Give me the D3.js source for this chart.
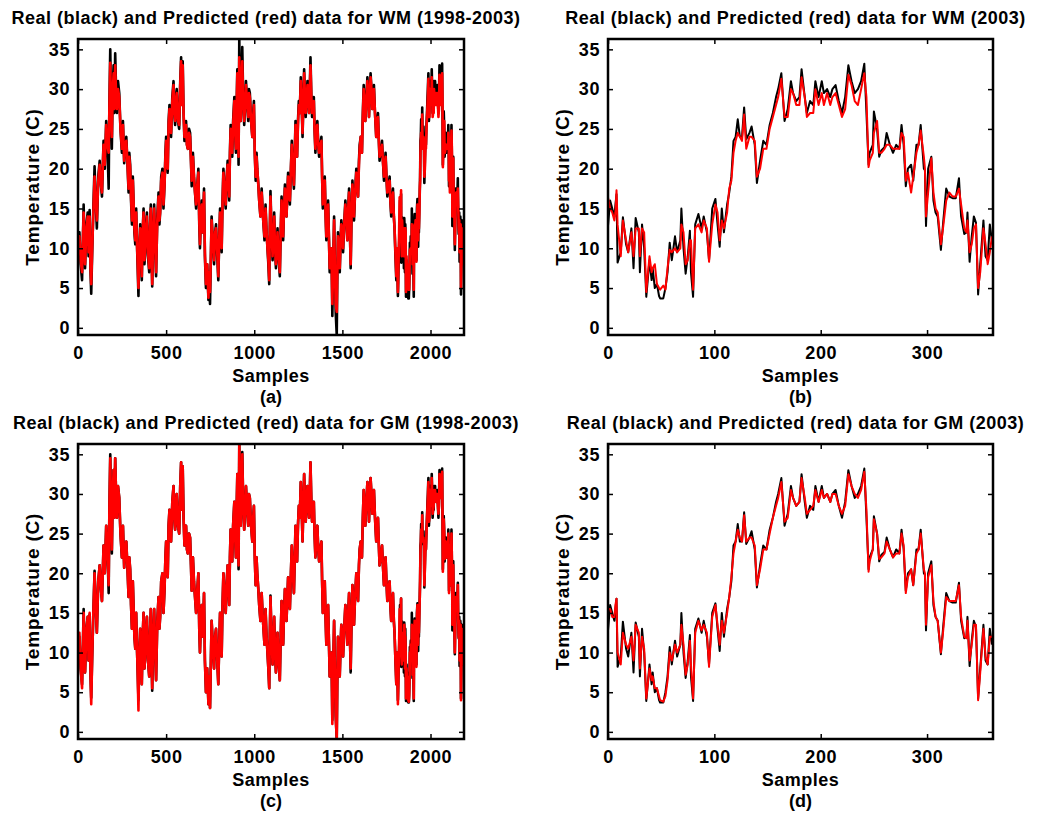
<!DOCTYPE html>
<html>
<head>
<meta charset="utf-8">
<script src="https://cdn.jsdelivr.net/npm/d3@7"></script>
<style>
  body { margin: 0; background: #fff; }
  text { font-family: "Liberation Sans", Arial, Helvetica, sans-serif; font-weight: bold; fill: #000; }
</style>
</head>
<body>
<svg id="chart" width="1044" height="816"></svg>
<script>
// 2003 samples (b, d) — sample index and temperature
var days03 = [0,2,4,6,7,8,9,12,14,17,
  19,22,24,26,29,30,32,34,36,39,
  41,42,44,46,48,49,52,54,56,58,
  60,63,65,68,69,71,73,75,77,78,
  80,82,85,88,90,93,95,98,101,103,
  105,107,109,112,114,116,118,120,122,124,
  126,128,130,133,135,138,140,143,146,149,
  152,155,158,160,163,166,169,172,174,177,
  180,182,185,187,190,193,195,198,201,203,
  206,209,211,214,217,220,223,226,229,232,
  235,238,241,243,245,246,249,250,253,255,
  257,260,262,265,268,271,274,276,278,280,
  282,285,287,290,292,294,297,298,299,301,
  304,306,308,310,313,315,318,321,324,327,
  330,332,335,337,338,340,342,344,346,348,
  350,353,355,357,359,361];

var real03 = [12.8,16,15,14,15.5,16.8,8.2,9.5,13.9,10.5,
  9.5,12.5,7.5,13.8,12,7,13,10,3.9,8.5,
  6,7.5,5,5.5,4,3.7,3.7,5,7,10.7,
  8.5,11.5,9.5,11,15,10,6.8,9,12.2,7,
  3.9,13,14.3,12.5,14,12,8.5,15,16.2,13,
  10.2,15,12,15.5,17,19,23.5,24,26.2,24,
  24,27.7,23.7,24.5,25.3,23,18.2,21,23.5,23,
  25.5,27,29,30,32,26,27.5,31,29.5,28.5,
  29,32.5,29,27,28.5,28,31,29,31,29.5,
  30,29,30,30.5,28.5,27,29,33,31,29.5,
  30,31,33.2,27,20.5,22,23,27.2,25,21.5,
  22.3,22.7,24.5,23,22,23,22.5,25.5,23,17.8,
  20,20.5,18.5,23,23,25.5,20,19.8,12.8,20,
  21.5,16,14.5,14,9.8,13,17.5,16.5,16.3,16.3,
  18.8,14,11.8,12,14.5,8.3,11.5,14,13.2,4.2,
  8,13.5,9,8.5,13,11];

var wmPred03 = [16.4,15,14.5,13.5,14.5,17.3,13,9,13.5,11,
  9.5,12,9,12.5,12.5,9,12.5,12,4.5,9,
  7,7.5,8,5.5,5,4.8,5.3,4.8,7.5,9.8,
  9.5,10,9.5,10,13,12,8,8.5,11,11,
  4.8,12.5,13,12,13.5,12.5,8.3,13,15.5,14.5,
  11,13.5,12.5,14.5,17.5,18.5,22,23.5,24.5,24,
  23.5,26.8,22.5,24,24,23.5,19,20,22.5,22.5,
  25,26.5,28,29,31.3,26.5,26.5,30,29.5,28,
  28,31.5,29,26.5,27,27,30,28,29.5,28,
  29.5,28,29,29.5,28,26.5,27.5,31.8,30.5,28.5,
  28,30,32,29,20.2,21,22,24.5,26,22,
  22,22.5,23,23,22.5,22.5,22.5,24.5,24,18.5,
  19.5,17,19,22,23,24.8,21.5,20,14,17,
  21.3,17,15,14.5,10.5,12.5,16,17,16.5,16.5,
  17.5,15.5,12.5,12,13.5,9.5,10.5,12.5,13,5,
  7,12.5,10.5,8,9.5,11.5];

var gmPred03 = [15.5,15.5,14.5,14.5,16,16.8,10,8.5,12.5,11,
  10.5,12,9,13.5,12.5,8,12,10.5,4.2,8,
  6.5,7,5.5,5.5,4.5,4,3.8,4.5,6.5,10,
  9,11,10,11,13.5,11,7.2,8.5,11.5,8.5,
  4.2,12.5,14,12.8,13.5,12.5,8.2,14.5,16,13.5,
  11,14,12.5,15,17,19.5,22.5,24,25.5,24.5,
  24,27.3,24,24.5,24.5,23.5,18.5,20.5,23,23,
  25,27,28.5,29.5,31.5,26.5,27,30.5,29.5,28.5,
  29,32,29.5,27.5,28,28.5,30.5,29,30.5,29.5,
  30,29,30,30,28.5,27.5,28.5,32.5,31,30,
  29.5,30.5,32.8,28,20.2,21.5,23,26.8,25,21.8,
  22,22.5,24,23,22,22.5,22.5,25,23.5,17.5,
  19.5,20.5,18.5,22.5,23,25,20.5,20,13.5,19.5,
  21,16.5,14.5,14,10,12.5,17,16.5,16.5,16.5,
  18.5,14.5,12,11.8,14,9,11,13.5,13.5,4,
  7.5,13,9.5,8.5,12,12];

// 1998-2002 samples (a, c); 2003 is appended from the arrays above
var daysLong = [0,8,15,23,32,40,48,55,60,66,
  71,75,80,87,94,100,107,115,123,130,
  136,145,152,160,167,174,178,183,188,192,
  197,202,206,211,216,221,227,234,241,249,
  255,262,268,274,280,287,291,296,301,306,
  311,315,320,325,330,334,338,343,348,353,
  358,362,367,372,377,381,386,391,397,404,
  408,413,417,421,427,432,438,443,450,457,
  462,466,472,479,485,491,496,500,505,509,
  514,519,523,528,535,542,546,551,556,560,
  567,574,580,585,590,594,599,604,608,613,
  618,623,630,636,641,645,652,658,664,670,
  677,683,688,692,697,702,708,715,720,726,
  733,740,745,749,754,758,765,772,778,783,
  790,796,801,806,811,815,820,825,832,838,
  844,849,854,858,862,866,871,875,880,887,
  891,896,900,904,908,911,915,919,923,928,
  932,938,943,948,953,960,966,970,975,982,
  989,994,998,1003,1008,1013,1017,1023,1028,1035,
  1042,1047,1051,1058,1064,1070,1075,1080,1085,1088,
  1092,1098,1104,1108,1113,1118,1123,1128,1132,1138,
  1145,1150,1155,1160,1164,1169,1174,1179,1183,1188,
  1192,1197,1202,1208,1213,1219,1225,1230,1234,1238,
  1243,1248,1253,1258,1264,1269,1274,1279,1283,1288,
  1292,1297,1302,1306,1311,1315,1319,1324,1328,1333,
  1338,1342,1347,1352,1358,1363,1368,1374,1381,1385,
  1389,1395,1400,1405,1409,1414,1419,1424,1428,1433,
  1438,1441,1443,1448,1453,1458,1462,1468,1471,1475,
  1480,1485,1490,1494,1499,1504,1510,1517,1522,1528,
  1533,1538,1543,1547,1552,1557,1562,1566,1572,1579,
  1584,1589,1594,1598,1604,1611,1616,1621,1626,1630,
  1636,1642,1647,1651,1656,1660,1665,1670,1675,1679,
  1685,1692,1697,1702,1706,1711,1718,1725,1730,1736,
  1740,1745,1750,1755,1762,1768,1772,1777,1782,1787,
  1792,1796,1801,1806,1810,1815,1820];

var realLong = [10.5,12,8,6,15.5,7.5,13,14.5,9,14.8,
  7,4.3,9,15,20.3,16,12.5,19,21,18,
  16.5,23.5,20,26,23,17.5,28,35,27,22.5,
  30,33,27,34.5,30,27,31,29.5,25,22,
  26,20.7,23,24,21,17,22,20.5,16,13,
  19,16,12,10.5,15,11,8,4,10,13,
  9,6,12,15,8,9.5,13,14.5,9,7,
  12,15.5,10,5.2,12,15.5,10,6.5,14,17,
  13,14.5,19,20,15,18,22,24,21,19.5,
  26,28,25,24,29,31,27,25.5,29,30,
  26,25,31,34,28,33.5,27,23.5,25.5,26,
  23,22.5,25,24.5,21,17.8,22,19,17,15,
  18,20,13,10,14,16,12,17.5,9,5,
  8,3.5,7,3,9,14,11,8,12,13,
  9,6,11,15,12,9.5,16,20,17,15,
  19,21,18,16,22,25.5,23,21.5,26,29,
  25,22,28,32.5,27,20.5,36.3,30,26,31,
  35.3,28,25.5,28,31,28,26,30,29.5,26,
  24,27,28.5,22,18.5,22,20,18,16,14,
  17.5,15,13.5,11,15.5,12,10,8,5.5,12,
  17.2,12,8.5,11,14.5,10,7.5,10,12.5,9,
  6.5,12,16.5,13,11,15,18,15,14,17,
  19.5,17,15.5,20,23.5,20,17.5,22,26,24,
  21.5,26,28.5,27,31.5,28,24,29,32.5,29,
  26.5,29,31,29,27,30,34,29,26.5,28,
  29,25,22,25,26,23,21.5,23,24,19,
  15,17,19,14,11,14,16,11,7,9,
  10,5,1.5,8,14,7,2,-0.9,6,12,
  10,7,11,13.5,12,9.5,13,16,14,11,
  15,17.5,12,7.5,14,18.5,16,13.5,17,20,
  18,16.5,21,23,24,22,27,30.5,28,26,
  29,31.5,29,26.5,30,32,30,27.5,29,30.5,
  27,24,26,27,24,21,22,23.5,21,18.5,
  20,22,19,16.5,18,19,16,14,16,17.5,
  14,12.5,9,6,10,4,9];

var wmPredLong = [11,11.5,8.5,7,14.5,8,12.5,14,9.5,14,
  7.5,5.5,9.5,14.5,19,16,13.5,18.5,20.5,18,
  17,23,20.5,25.5,23,22,27.5,33.3,27,24,
  29.5,32,27.5,33,29.5,27.5,30,29,25,22.5,
  25.5,21,23,23.5,21,17.5,21.5,20,16.5,13.5,
  18.5,16,12.5,11,14.5,11,8.5,5,10,12.5,
  9.5,6.5,12,14.5,8.5,10,12.5,14,9.5,7.5,
  12,15,10,5.5,12,15,10.5,7,13.5,16.5,
  13.5,14.5,18.5,19.5,15.5,18,21.5,23.5,21,20,
  25.5,27.5,25,24.5,28.5,30.5,27,26,28.5,29.5,
  26,25.5,30.5,33.5,28,33,27,24,25.5,25.5,
  23,22.5,24.5,24,21,18.5,21.5,19,17,15.5,
  18,19.5,13.5,10.5,14,15.5,12,17,9.5,5.5,
  8,3.8,7,4.5,9,13.5,11,8.5,12,12.5,
  9.5,6.5,11,14.5,12,10,15.5,19.5,17,15.5,
  19,20.5,18,16.5,21.5,25,23,22,25.5,28.5,
  25,22.5,27.5,32,27,21.5,34,29.5,26,30.5,
  33.5,28,26,28,30.5,28,26.5,29.5,29,26,
  24,26.5,28,22,19,21.5,20,18,16,14,
  17,15,13.5,11.5,15,12,10,8.5,6,12,
  16.5,12,9,11,14,10,8,10,12,9,
  7,12,16,13,11.5,15,17.5,15,14,17,
  19,17,16,20,23,20,18,22,25.5,24,
  21.5,25.5,28,27,31,28,24.5,28.5,32,29,
  27,28.5,30.5,29,27,29.5,33,29,27,28,
  28.5,25,22.5,25,25.5,23,22,23,23.5,19,
  15.5,17,18.5,14,11.5,14,15.5,11,7.5,9,
  10,5.5,3,8,13.5,7,3,2,6.5,11.5,
  10,7.5,11,13,12,10,13,15.5,14,11,
  15,17,12,8,14,18,16,14,17,19.5,
  18,16.5,20.5,22.5,24,22,26.5,30,28,26,
  28.5,31,29,26.5,29.5,31.5,30,27.5,29,30,
  27,24,26,26.5,24,21.5,22,23,21,19,
  20,21.5,19,17,18,18.5,16,14.5,16,17,
  14,12.5,9.5,6.5,10,4.5,9.5];

var gmPredLong = [10.5,12.5,8,5.5,15,7.5,13,14.5,9,15,
  7,3.5,9,15,20,16,12.5,19,21,18,
  16.5,23.5,20,26,23,18.5,28,34.5,27,23,
  30,33,27,34.5,30,27,31,29.5,25,22,
  26,20.7,23,24,21,17,22,20.5,16,13,
  19,16,12,10.5,15,11,8,2.7,10,13,
  9,6,12,15,8,9.5,13,14.5,9,7,
  12,15.5,10,5.5,12,15.5,10,6.5,14,17,
  13,14.5,19,20,15,18,22,24,21,19.5,
  26,28,25,24,29,31,27,25.5,29,30,
  26,25,31,34,28,33.5,27,23.5,25.5,26,
  23,22.5,25,24.5,21,17.8,22,19,17,15,
  18,20,13,10,14,16,12,17.5,9,5,
  8,3.5,7,3,9,14,11,8,12,13,
  9,6,11,15,12,9.5,16,20,17,15,
  19,21,18,16,22,25.5,23,21.5,26,29,
  25,22,28,32.5,27,21,36.3,30,26,31,
  35,28,25.5,28,31,28,26,30,29.5,26,
  24,27,28.5,22,18.5,22,20,18,16,14,
  17.5,15,13.5,11,15.5,12,10,8,5.5,12,
  17,12,8.5,11,14.5,10,7.5,10,12.5,9,
  6.5,12,16.5,13,11,15,18,15,14,17,
  19.5,17,15.5,20,23.5,20,17.5,22,26,24,
  21.5,26,28.5,27,31.5,28,24,29,32.5,29,
  26.5,29,31,29,27,30,34,29,26.5,28,
  29,25,22,25,26,23,21.5,23,24,19,
  15,17,19,14,11,14,16,11,7,9,
  10,5,1,8,14,7,2,-0.9,6,12,
  10,7,11,13.5,12,9.5,13,16,14,11,
  15,17.5,12,8,14,18.5,16,13.5,17,20,
  18,16.5,21,23,24,22,27,30.5,28,26,
  29,31.5,29,26.5,30,32,30,27.5,29,30.5,
  27,24,26,27,24,21,22,23.5,21,18.5,
  20,22,19,16.5,18,19,16,14,16,17.5,
  14,12.5,9,6,10,3.5,9];

var yTicks = [0, 5, 10, 15, 20, 25, 30, 35];
var longTicks = [0, 500, 1000, 1500, 2000];
var shortTicks = [0, 100, 200, 300];
var yearOffset = 1825;

function series(days, vals, offset) {
  return days.map(function(d, i) { return [d + (offset || 0), vals[i]]; });
}

var longReal = series(daysLong, realLong).concat(series(days03, real03, yearOffset));
var longWM = series(daysLong, wmPredLong).concat(series(days03, wmPred03, yearOffset));
var longGM = series(daysLong, gmPredLong).concat(series(days03, gmPred03, yearOffset));

var panels = [
  {id: "a", title: "Real (black) and Predicted (red) data for WM (1998-2003)", x0: 78, x1: 464, y0: 39, y1: 335,
   xmax: 2190, ticks: longTicks, real: longReal, pred: longWM, lw: 2.6},
  {id: "b", title: "Real (black) and Predicted (red) data for WM (2003)", x0: 608, x1: 993, y0: 39, y1: 335,
   xmax: 362, ticks: shortTicks, real: series(days03, real03), pred: series(days03, wmPred03), lw: 2},
  {id: "c", title: "Real (black) and Predicted (red) data for GM (1998-2003)", x0: 78, x1: 464, y0: 444, y1: 739,
   xmax: 2190, ticks: longTicks, real: longReal, pred: longGM, lw: 2.6},
  {id: "d", title: "Real (black) and Predicted (red) data for GM (2003)", x0: 608, x1: 993, y0: 444, y1: 739,
   xmax: 362, ticks: shortTicks, real: series(days03, real03), pred: series(days03, gmPred03), lw: 2}
];

var svg = d3.select("#chart");

panels.forEach(function(p) {
  var x = d3.scaleLinear().domain([0, p.xmax]).range([p.x0, p.x1]);
  var y = d3.scaleLinear().domain([-0.9, 36.3]).range([p.y1, p.y0]);
  var g = svg.append("g");
  var cx = (p.x0 + p.x1) / 2;

  g.append("clipPath").attr("id", "clip-" + p.id)
    .append("rect").attr("x", p.x0).attr("y", p.y0)
    .attr("width", p.x1 - p.x0).attr("height", p.y1 - p.y0);

  var line = d3.line().x(function(d) { return x(d[0]); }).y(function(d) { return y(d[1]); });

  var plot = g.append("g").attr("clip-path", "url(#clip-" + p.id + ")");
  plot.append("path").datum(p.real).attr("d", line)
    .attr("fill", "none").attr("stroke", "#000").attr("stroke-width", p.lw).attr("stroke-linejoin", "round");
  plot.append("path").datum(p.pred).attr("d", line)
    .attr("fill", "none").attr("stroke", "#ff0000").attr("stroke-width", p.lw).attr("stroke-linejoin", "round");

  // axes, ticks pointing inward on all four sides
  var ax = [
    {a: d3.axisBottom(x).tickValues(p.ticks).tickFormat(d3.format("d")).tickSize(-5).tickPadding(11), t: "translate(0," + p.y1 + ")"},
    {a: d3.axisTop(x).tickValues(p.ticks).tickSize(-5).tickFormat(""), t: "translate(0," + p.y0 + ")"},
    {a: d3.axisLeft(y).tickValues(yTicks).tickSize(-5).tickPadding(8), t: "translate(" + p.x0 + ",0)"},
    {a: d3.axisRight(y).tickValues(yTicks).tickSize(-5).tickFormat(""), t: "translate(" + p.x1 + ",0)"}
  ];
  ax.forEach(function(o) {
    var s = g.append("g").attr("transform", o.t).call(o.a.tickSizeOuter(0));
    s.select(".domain").remove();
    s.selectAll("line").attr("stroke", "#000").attr("stroke-width", 1.5);
    s.selectAll("text").attr("font-size", 18).attr("font-family", null).attr("fill", "#000")
      .style("letter-spacing", "0.6px");
  });

  g.append("rect").attr("x", p.x0).attr("y", p.y0)
    .attr("width", p.x1 - p.x0).attr("height", p.y1 - p.y0)
    .attr("fill", "none").attr("stroke", "#000").attr("stroke-width", 2.5);

  g.append("text").attr("x", cx - 5).attr("y", p.y0 - 15)
    .attr("text-anchor", "middle").attr("font-size", 18).style("letter-spacing", "0.5px").text(p.title);

  g.append("text").attr("x", cx).attr("y", p.y1 + 47)
    .attr("text-anchor", "middle").attr("font-size", 18).style("letter-spacing", "0.5px").text("Samples");

  g.append("text").attr("x", cx).attr("y", p.y1 + 68)
    .attr("text-anchor", "middle").attr("font-size", 18).text("(" + p.id + ")");

  g.append("text")
    .attr("transform", "translate(" + (p.x0 - 39) + "," + ((p.y0 + p.y1) / 2) + ") rotate(-90)")
    .attr("text-anchor", "middle").attr("font-size", 19).style("letter-spacing", "0.8px").text("Temperature (C)");
});
</script>
</body>
</html>
